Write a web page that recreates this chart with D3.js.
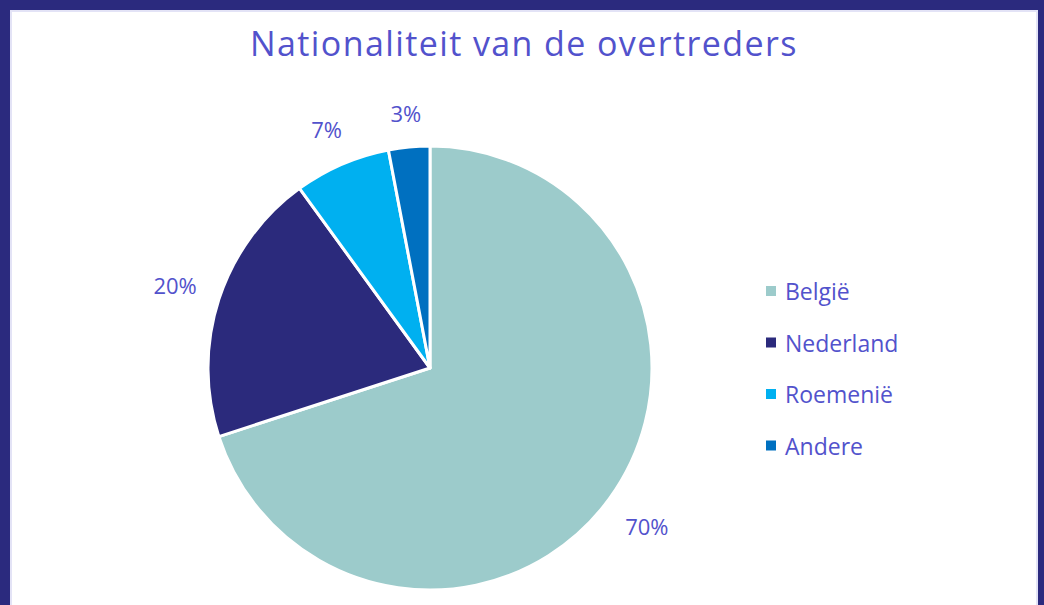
<!DOCTYPE html>
<html>
<head>
<meta charset="utf-8">
<script src="https://cdn.jsdelivr.net/npm/d3@7"></script>
<style>
  body { margin: 0; background: #2b2a7e; overflow: hidden; }
  #chart { position: absolute; left: 10px; top: 10px; width: 1028px; height: 620px; background: #fff; box-shadow: inset 0 0 0 2px #e3e3f6; }
  text { font-family: "Open Sans", sans-serif; }
</style>
</head>
<body>
<div id="chart"><svg id="svg" width="1028" height="620"></svg></div>
<script>
const categories = ["België", "Nederland", "Roemenië", "Andere"];
const values = [70, 20, 7, 3];
const labels = ["70%", "20%", "7%", "3%"];
const colors = ["#9ccbcb", "#2b2a7c", "#00b0f0", "#0070c0"];
const title = "Nationaliteit van de overtreders";

const textColor = "#5252cc";
const svg = d3.select("#svg");
// chart area is offset by the 10px border
const cx = 420, cy = 358, radius = 222;

svg.append("text")
  .attr("x", 514)
  .attr("y", 46)
  .attr("text-anchor", "middle")
  .attr("fill", textColor)
  .attr("font-size", 34)
  .attr("letter-spacing", 1.4)
  .text(title);

const data = categories.map((c, i) => ({ name: c, value: values[i], label: labels[i], color: colors[i] }));

const pie = d3.pie().value(d => d.value).sort(null);
const arc = d3.arc().innerRadius(0).outerRadius(radius);

const g = svg.append("g").attr("transform", "translate(" + cx + "," + cy + ")");
const arcs = pie(data);

g.selectAll("path")
  .data(arcs)
  .join("path")
  .attr("d", arc)
  .attr("fill", d => d.data.color)
  .attr("stroke", "#fff")
  .attr("stroke-width", 3)
  .attr("stroke-linejoin", "round");

// outside labels: keep the text box a fixed gap away from the pie edge
g.selectAll("text.lbl")
  .data(arcs)
  .join("text")
  .attr("class", "lbl")
  .attr("text-anchor", "middle")
  .attr("dominant-baseline", "central")
  .attr("fill", textColor)
  .attr("font-size", 22)
  .text(d => d.data.label)
  .attr("transform", function (d) {
    const box = this.getBBox();
    const a = (d.startAngle + d.endAngle) / 2;
    const sx = Math.sin(a), sy = -Math.cos(a);
    const r = radius + 22 + Math.abs(sx) * box.width / 2 + Math.abs(sy) * 11;
    return "translate(" + sx * r + "," + sy * r + ")";
  });

// legend
const legend = svg.append("g").attr("transform", "translate(756,281)");
const item = legend.selectAll("g")
  .data(data)
  .join("g")
  .attr("transform", (d, i) => "translate(0," + i * 51.5 + ")");
item.append("rect")
  .attr("x", 0)
  .attr("y", -5)
  .attr("width", 10)
  .attr("height", 10)
  .attr("fill", d => d.color);
item.append("text")
  .attr("x", 19)
  .attr("y", 0)
  .attr("dominant-baseline", "central")
  .attr("fill", textColor)
  .attr("font-size", 23)
  .text(d => d.name);
</script>
</body>
</html>
